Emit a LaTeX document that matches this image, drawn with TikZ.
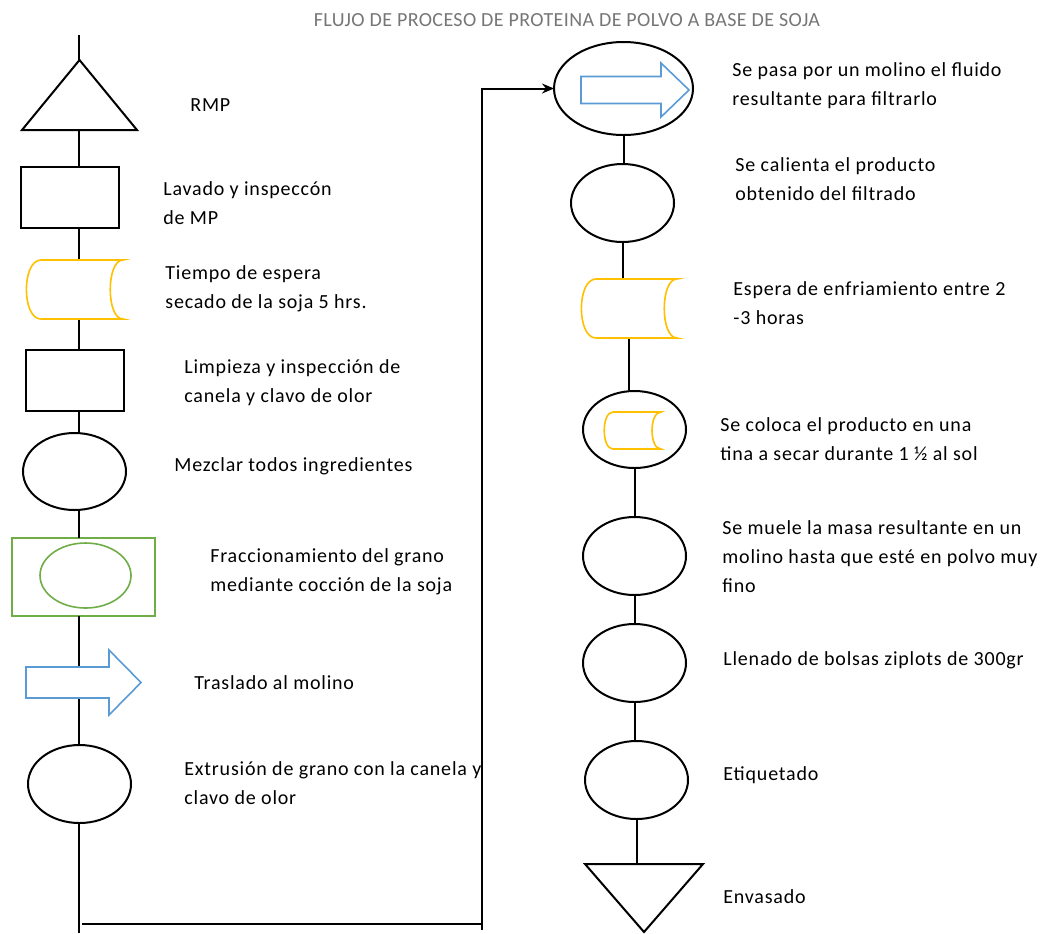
\documentclass[tikz,border=0pt]{standalone}
\usepackage{fontspec}
\setmainfont{Carlito}
\usetikzlibrary{calc,arrows.meta,shapes.geometric}
\def\u{0.5pt}
\definecolor{yel}{RGB}{255,192,0}
\definecolor{blu}{RGB}{91,155,213}
\definecolor{grn}{RGB}{112,173,71}
\definecolor{ttlgray}{RGB}{118,118,118}
\newcommand\cylpath[3]{%
  \draw[yelline] ($(#1.north west)+(#2,0)$) .. controls ($(#1.north west)+(-0.3*#2,0)$) and ($(#1.south west)+(-0.3*#2,0)$) .. ($(#1.south west)+(#2,0)$) -- (#1.south east) .. controls ($(#1.south east)+(-#3,0)$) and ($(#1.north east)+(-#3,0)$) .. (#1.north east) -- cycle;}
\newcommand\blockarrow[3]{%
  \draw[bluline] ($(#1.west)+(0,-#2/2)$) -- ($(#1.east)+(-#3,-#2/2)$) -- ($(#1.north east)+(-#3,0)$) -- (#1.east) -- ($(#1.south east)+(-#3,0)$) -- ($(#1.east)+(-#3,#2/2)$) -- ($(#1.west)+(0,#2/2)$) -- cycle;}
\tikzset{
  ln/.style={line width=1pt,black},
  frame/.style={inner sep=0pt,outer sep=0pt},
  box/.style={frame,draw,line width=1pt,rectangle},
  oval/.style={frame,draw,line width=1pt,ellipse,fill=white},
  ghost/.style={frame,rectangle},
  greenbox/.style={frame,draw=grn,line width=0.8pt,rectangle},
  greenoval/.style={frame,draw=grn,line width=0.8pt,ellipse},
  yelline/.style={draw=yel,line width=0.8pt,fill=white},
  bluline/.style={draw=blu,line width=0.8pt,fill=white},
  tri/.style={line width=1pt,black,fill=white},
  lbl/.style={inner sep=0pt,anchor=west,align=left,font=\fontsize{10pt}{14.5pt}\selectfont\addfontfeatures{LetterSpace=4}},
  ttl/.style={inner sep=0pt,text=ttlgray,font=\fontsize{10pt}{12pt}\selectfont\addfontfeatures{LetterSpace=2}},
}
\begin{document}
\begin{tikzpicture}[x=0.5pt,y=-0.5pt]
\useasboundingbox (0,0) rectangle (1047,933);
% title
\node[ttl] (title) at (567,20) {FLUJO DE PROCESO DE PROTEINA DE POLVO A BASE DE SOJA};
% left column nodes
\coordinate (lx) at (79,0);
\coordinate (top) at (79,35);
\node[ghost,minimum width=115*\u,minimum height=70*\u] (rmp) at (79.5,95) {};
\node[box,minimum width=98*\u,minimum height=61*\u] (lav) at (70,197.5) {};
\node[ghost,minimum width=97*\u,minimum height=59*\u] (tie) at (74.5,289.5) {};
\node[box,minimum width=98*\u,minimum height=61*\u] (lim) at (75,380.5) {};
\node[oval,minimum width=103*\u,minimum height=77*\u] (mez) at (74.5,471.5) {};
\node[greenbox,minimum width=143*\u,minimum height=78*\u] (fra) at (83.5,577) {};
\node[greenoval,minimum width=91*\u,minimum height=65*\u] (fraov) at (85.5,575.5) {};
\node[ghost,minimum width=115*\u,minimum height=65*\u] (tras) at (83.5,682.5) {};
\node[oval,minimum width=103*\u,minimum height=78*\u] (ext) at (79.5,784) {};
\coordinate (lend) at (79,933);
\coordinate (c1) at (82,924);
\coordinate (c2) at (482,924);
\coordinate (c3) at (482,930);
\coordinate (c4) at (482,88.5);
% right column nodes
\node[oval,minimum width=139*\u,minimum height=93*\u] (r1) at (623.5,88.5) {};
\node[ghost,minimum width=108*\u,minimum height=54*\u] (r1arr) at (635,90) {};
\node[oval,minimum width=103*\u,minimum height=78*\u] (r2) at (622.5,203) {};
\node[ghost,minimum width=96*\u,minimum height=59*\u] (r3) at (629,308.5) {};
\node[oval,minimum width=103*\u,minimum height=77*\u] (r4) at (634.5,429.5) {};
\node[ghost,minimum width=57*\u,minimum height=37*\u] (r4cyl) at (632.5,430.5) {};
\node[oval,minimum width=103*\u,minimum height=78*\u] (r5) at (634.5,556) {};
\node[oval,minimum width=103*\u,minimum height=78*\u] (r6) at (634.5,663) {};
\node[oval,minimum width=103*\u,minimum height=78*\u] (r7) at (636.5,780) {};
\node[ghost,minimum width=118*\u,minimum height=68*\u] (env) at (644,898) {};
% left connectors
\draw[ln] (top) -- (rmp.north -| lx);
\draw[ln] (rmp.south -| lx) -- (lav.north -| lx);
\draw[ln] (lav.south -| lx) -- (tie.north -| lx);
\draw[ln] (tie.south -| lx) -- (lim.north -| lx);
\draw[ln] (lim.south -| lx) -- (mez.north -| lx);
\draw[ln] (mez.south -| lx) -- (fra.north -| lx);
\draw[ln] (fra.south -| lx) -- (ext.north -| lx);
\draw[ln] (ext.south -| lx) -- (lend);
\draw[ln] (c1) -- (c2);
\draw[ln,-{Stealth[length=6pt,width=5pt]}] (c3) -- (c4) -- (r1.west);
% right connectors
\draw[ln] (r1.south) -- (r1.south |- r2.north);
\draw[ln] (r2.south) -- (r2.south |- r3.north);
\draw[ln] (r3.south) -- (r3.south |- r4.north);
\draw[ln] (r4.south) -- (r4.south |- r5.north);
\draw[ln] (r5.south) -- (r5.south |- r6.north);
\draw[ln] (r6.south) -- (r6.south |- r7.north);
\draw[ln] (r7.south) -- (r7.south |- env.north);
% shapes drawn on top
\draw[tri] (rmp.south west) -- (rmp.north) -- (rmp.south east) -- cycle;
\cylpath{tie}{15}{17}
\blockarrow{tras}{31}{32}
\blockarrow{r1arr}{27}{28}
\cylpath{r3}{15}{17}
\cylpath{r4cyl}{9}{12}
\draw[tri] (env.north west) -- (env.north east) -- (env.south) -- cycle;
% labels
\node[lbl] (t1) at (190,105) {RMP};
\node[lbl] (t2) at (163,203) {Lavado y inspeccón\\de MP};
\node[lbl] (t3) at (165,289) {Tiempo de espera\\secado de la soja 5 hrs.};
\node[lbl] (t4) at (184,383) {Limpieza y inspección de\\canela y clavo de olor};
\node[lbl] (t5) at (174,466) {Mezclar todos ingredientes};
\node[lbl] (t6) at (210,572) {Fraccionamiento del grano\\mediante cocción de la soja};
\node[lbl] (t7) at (194,683) {Traslado al molino};
\node[lbl] (t8) at (184,783) {Extrusión de grano con la canela y\\clavo de olor};
\node[lbl] (t9) at (732,86) {Se pasa por un molino el fluido\\resultante para filtrarlo};
\node[lbl] (t10) at (735,179) {Se calienta el producto\\obtenido del filtrado};
\node[lbl] (t11) at (733,303) {Espera de enfriamiento entre 2\\-3 horas};
\node[lbl] (t12) at (720,439) {Se coloca el producto en una\\tina a secar durante 1 ½ al sol};
\node[lbl] (t13) at (722,557) {Se muele la masa resultante en un\\molino hasta que esté en polvo muy\\fino};
\node[lbl] (t14) at (723,660) {Llenado de bolsas ziplots de 300gr};
\node[lbl] (t15) at (723,775) {Etiquetado};
\node[lbl] (t16) at (723,897) {Envasado};
\end{tikzpicture}
\end{document}
